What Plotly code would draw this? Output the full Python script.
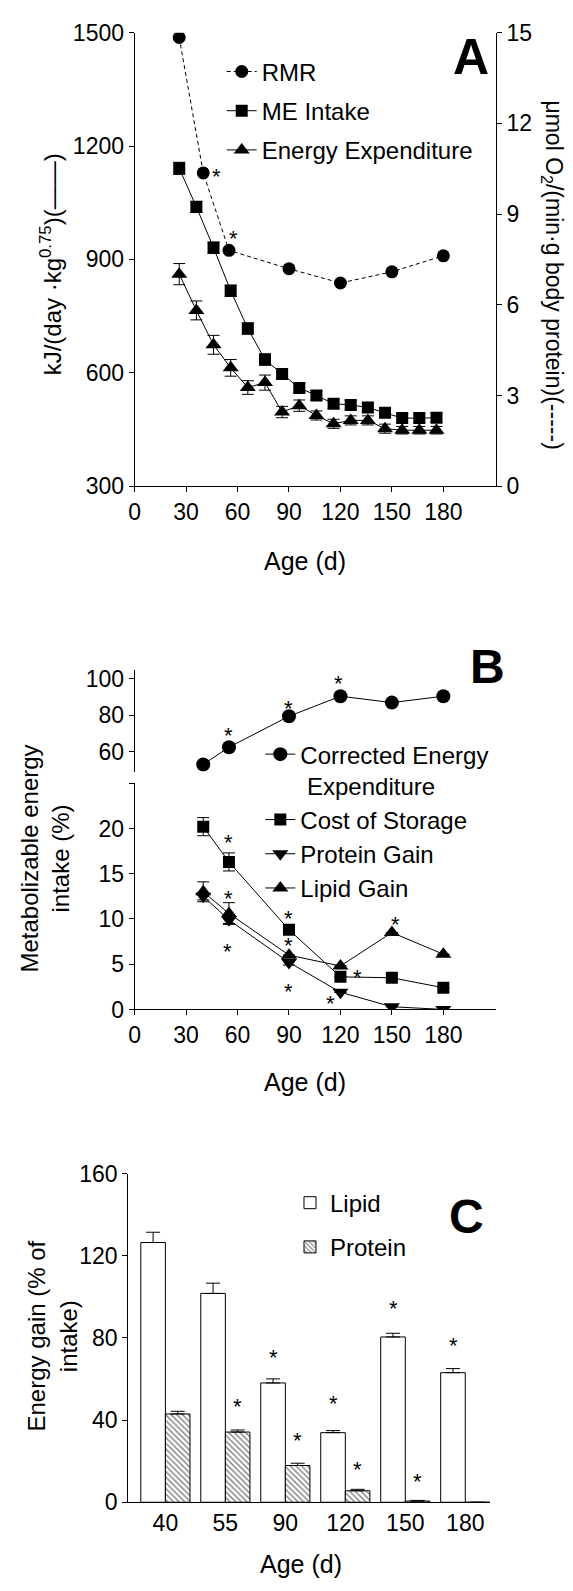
import plotly.graph_objects as go

W, H = 573, 1591
def px(x): return x / W
def py(y): return 1 - y / H

FONT = "Liberation Sans, Arial, sans-serif"

# ---------------- Panel A data ----------------
rmr_days = [26, 40, 55, 90, 120, 150, 180]
rmr = [14.84, 10.36, 7.8, 7.19, 6.72, 7.09, 7.62]            # umol O2/(min g protein)
a_days = [26, 36, 46, 56, 66, 76, 86, 96, 106, 116, 126, 136, 146, 156, 166, 176]
me_intake = [1141, 1039, 931, 817, 717, 635, 597, 560, 540, 518, 515, 508, 494, 480, 480, 481]
me_err = [16, 15, 15, 15, 15, 15, 12, 12, 12, 12, 12, 12, 12, 12, 12, 12]
energy_exp = [861, 765, 674, 613, 561, 574, 496, 513, 487, 465, 474, 474, 452, 448, 448, 448]
ee_err = [28, 25, 25, 22, 18, 20, 15, 15, 12, 12, 12, 12, 12, 10, 10, 10]
a_star_x = [47.8, 57.7]
a_star_y = [10.4, 8.36]

# ---------------- Panel B data ----------------
b_days = [40, 55, 90, 120, 150, 180]
corr_ee = [53, 62.5, 79.5, 90.5, 87, 90.5]
cost_storage = [20.2, 16.3, 8.8, 3.6, 3.5, 2.4]
cost_err = [1.0, 1.0, 0, 0, 0, 0]
protein_gain = [12.5, 9.9, 5.2, 1.9, 0.3, 0.0]
protein_err = [0.4, 0.4, 0.3, 0, 0, 0]
lipid_gain = [13.0, 10.6, 6.0, 4.8, 8.5, 6.1]
lipid_err = [1.1, 1.2, 0, 0, 0, 0]
b_up_star_x = [55, 90, 119]
b_up_star_y = [71.7, 86.6, 100.2]
b_lo_star_x = [55, 55, 54, 90, 90, 90, 114, 130, 152]
b_lo_star_y = [19.0, 12.8, 7.0, 10.6, 7.6, 2.5, 1.2, 4.1, 9.9]

# ---------------- Panel C data ----------------
c_ages = ["40", "55", "90", "120", "150", "180"]
c_lipid = [126.5, 101.7, 58.1, 33.9, 80.5, 63.1]
c_lipid_err = [5, 5, 2, 1, 1.8, 2]
c_protein = [43, 34.2, 17.9, 5.6, 0.6, 0]
c_protein_err = [1.3, 1, 1.1, 0.7, 0.3, 0]
c_star_x = [1.2, 1.8, 2.2, 2.8, 3.2, 3.8, 4.2, 4.8]
c_star_y = [49, 72.8, 32.6, 50.3, 18.4, 96.8, 12.5, 78.6]

fig = go.Figure()
line = dict(color="black", width=1)
eb = dict(type="data", color="black", thickness=1, width=6)

# Panel A traces
fig.add_trace(go.Scatter(x=rmr_days, y=rmr, xaxis="x", yaxis="y2", name="RMR",
                         mode="lines+markers", line=dict(color="black", width=1, dash="4px,3px"),
                         marker=dict(symbol="circle", size=13, color="black"), legend="legend",
                         legendgroup="a1"))
fig.add_trace(go.Scatter(x=a_days, y=me_intake, xaxis="x", yaxis="y", name="ME Intake",
                         mode="lines+markers", line=line, error_y=dict(eb, array=me_err),
                         marker=dict(symbol="square", size=12, color="black"), legend="legend",
                         legendgroup="a2"))
fig.add_trace(go.Scatter(x=a_days, y=energy_exp, xaxis="x", yaxis="y", name="Energy Expenditure",
                         mode="lines+markers", line=line, error_y=dict(eb, array=ee_err),
                         marker=dict(symbol="triangle-up", size=14, color="black"), legend="legend",
                         legendgroup="a3"))

# Panel B traces
fig.add_trace(go.Scatter(x=b_days, y=corr_ee, xaxis="x3", yaxis="y3",
                         name="Corrected Energy<br> Expenditure",
                         mode="lines+markers", line=line,
                         marker=dict(symbol="circle", size=14, color="black"), legend="legend2",
                         legendgroup="b1"))
fig.add_trace(go.Scatter(x=b_days, y=cost_storage, xaxis="x3", yaxis="y4", name="Cost of Storage",
                         mode="lines+markers", line=line, error_y=dict(eb, array=cost_err),
                         marker=dict(symbol="square", size=12, color="black"), legend="legend2",
                         legendgroup="b2"))
fig.add_trace(go.Scatter(x=b_days, y=protein_gain, xaxis="x3", yaxis="y4", name="Protein Gain",
                         mode="lines+markers", line=line, error_y=dict(eb, array=protein_err),
                         marker=dict(symbol="triangle-down", size=14, color="black"), legend="legend2",
                         legendgroup="b3"))
fig.add_trace(go.Scatter(x=b_days, y=lipid_gain, xaxis="x3", yaxis="y4", name="Lipid Gain",
                         mode="lines+markers", line=line, error_y=dict(eb, array=lipid_err),
                         marker=dict(symbol="triangle-up", size=14, color="black"), legend="legend2",
                         legendgroup="b4"))

# Panel C traces
c_idx = list(range(len(c_ages)))
fig.add_trace(go.Bar(x=c_idx, y=c_lipid, xaxis="x5", yaxis="y5", name="Lipid",
                     marker=dict(color="white", line=dict(color="black", width=1)),
                     error_y=dict(eb, array=c_lipid_err, arrayminus=[0] * 6, symmetric=False, width=7),
                     legend="legend3", legendgroup="c1"))
fig.add_trace(go.Bar(x=c_idx, y=c_protein, xaxis="x5", yaxis="y5", name="Protein",
                     marker=dict(color="white", line=dict(color="black", width=1),
                                 pattern=dict(shape="\\", fgcolor="black", bgcolor="white",
                                              size=4, solidity=0.35)),
                     error_y=dict(eb, array=c_protein_err, arrayminus=[0] * 6, symmetric=False, width=7),
                     legend="legend3", legendgroup="c2"))

tickfont = dict(family=FONT, size=23, color="black")
axbase = dict(showline=True, linecolor="black", linewidth=1, ticks="outside", ticklen=5,
              tickcolor="black", tickwidth=1, showgrid=False, zeroline=False, tickfont=tickfont)
legfont = dict(family=FONT, size=24, color="black")

layout = dict(
    width=W, height=H, margin=dict(l=0, r=0, t=0, b=0),
    paper_bgcolor="white", plot_bgcolor="rgba(0,0,0,0)",
    font=dict(family=FONT, size=22, color="black"),
    barmode="group", bargap=0.18, bargroupgap=0,
    xaxis=dict(axbase, domain=[px(130), px(495)], range=[0, 210.6], anchor="y",
               tickvals=[0, 30, 60, 90, 120, 150, 180]),
    yaxis=dict(axbase, domain=[py(481), py(20)], range=[300, 1500], anchor="x",
               tickvals=[300, 600, 900, 1200, 1500]),
    yaxis2=dict(axbase, overlaying="y", side="right", anchor="x", range=[0, 15],
                tickvals=[0, 3, 6, 9, 12, 15]),
    xaxis3=dict(axbase, domain=[px(130), px(495)], range=[0, 210.6], anchor="y4",
                tickvals=[0, 30, 60, 90, 120, 150, 180]),
    yaxis3=dict(axbase, domain=[py(771.4), py(668.3)], range=[49, 104.7], anchor="x3",
                tickvals=[60, 80, 100]),
    yaxis4=dict(axbase, domain=[py(1013), py(783)], range=[0, 25], anchor="x3",
                tickvals=[0, 5, 10, 15, 20, 25], ticktext=["0", "5", "10", "15", "20", " "]),
    xaxis5=dict(axbase, domain=[px(123.5), px(489.6)], range=[-0.62, 5.42], anchor="y5",
                tickvals=c_idx, ticktext=c_ages, ticks=""),
    yaxis5=dict(axbase, domain=[py(1514), py(1180)], range=[0, 160], anchor="x5",
                tickvals=[0, 40, 80, 120, 160]),
    legend=dict(x=px(218), y=py(37), xanchor="left", yanchor="top", itemwidth=30,
                font=legfont, tracegroupgap=5, bgcolor="rgba(0,0,0,0)", traceorder="grouped"),
    legend2=dict(x=px(257), y=py(731), xanchor="left", yanchor="top", itemwidth=30, valign="top",
                 font=legfont, tracegroupgap=0, bgcolor="rgba(0,0,0,0)", traceorder="grouped"),
    legend3=dict(x=px(287), y=py(1187), xanchor="left", yanchor="top", itemwidth=30,
                 font=legfont, tracegroupgap=10, bgcolor="rgba(0,0,0,0)", traceorder="grouped"),
)
fig.update_layout(**layout)

ann = []
def title(text, x, y, angle=0, size=24):
    ann.append(dict(text=text, x=px(x), y=py(y), xref="paper", yref="paper", showarrow=False,
                    textangle=angle, font=dict(family=FONT, size=size, color="black"),
                    xanchor="center", yanchor="middle"))

title("kJ/(day ·kg<sup>0.75</sup>)(——)", 45, 256, -90, 24)
title("μmol O<sub>2</sub>/(min·g body protein)(-----)", 552, 266, 90, 23)
title("Age (d)", 302, 557, 0, 25)
title("Metabolizable energy<br>intake (%)", 39, 860, -90, 24)
title("Age (d)", 302, 1087, 0, 25)
title("Energy gain (% of<br>intake)", 47, 1345, -90, 24)
title("Age (d)", 298, 1577, 0, 25)
title("<b>A</b>", 470, 45, 0, 50)
title("<b>B</b>", 487, 664, 0, 48)
title("<b>C</b>", 465, 1224, 0, 48)

def stars(xs, ys, xr, yr):
    for sx, sy in zip(xs, ys):
        ann.append(dict(text="*", x=sx, y=sy, xref=xr, yref=yr, showarrow=False,
                        font=dict(family=FONT, size=22, color="black"), yshift=-5))

stars(a_star_x, a_star_y, "x", "y2")
stars(b_up_star_x, b_up_star_y, "x3", "y3")
stars(b_lo_star_x, b_lo_star_y, "x3", "y4")
stars(c_star_x, c_star_y, "x5", "y5")

fig.update_layout(annotations=ann)
fig.write_html("out.html", config={"displayModeBar": False},
               post_script="document.body.style.margin='0';document.body.style.padding='0';")
